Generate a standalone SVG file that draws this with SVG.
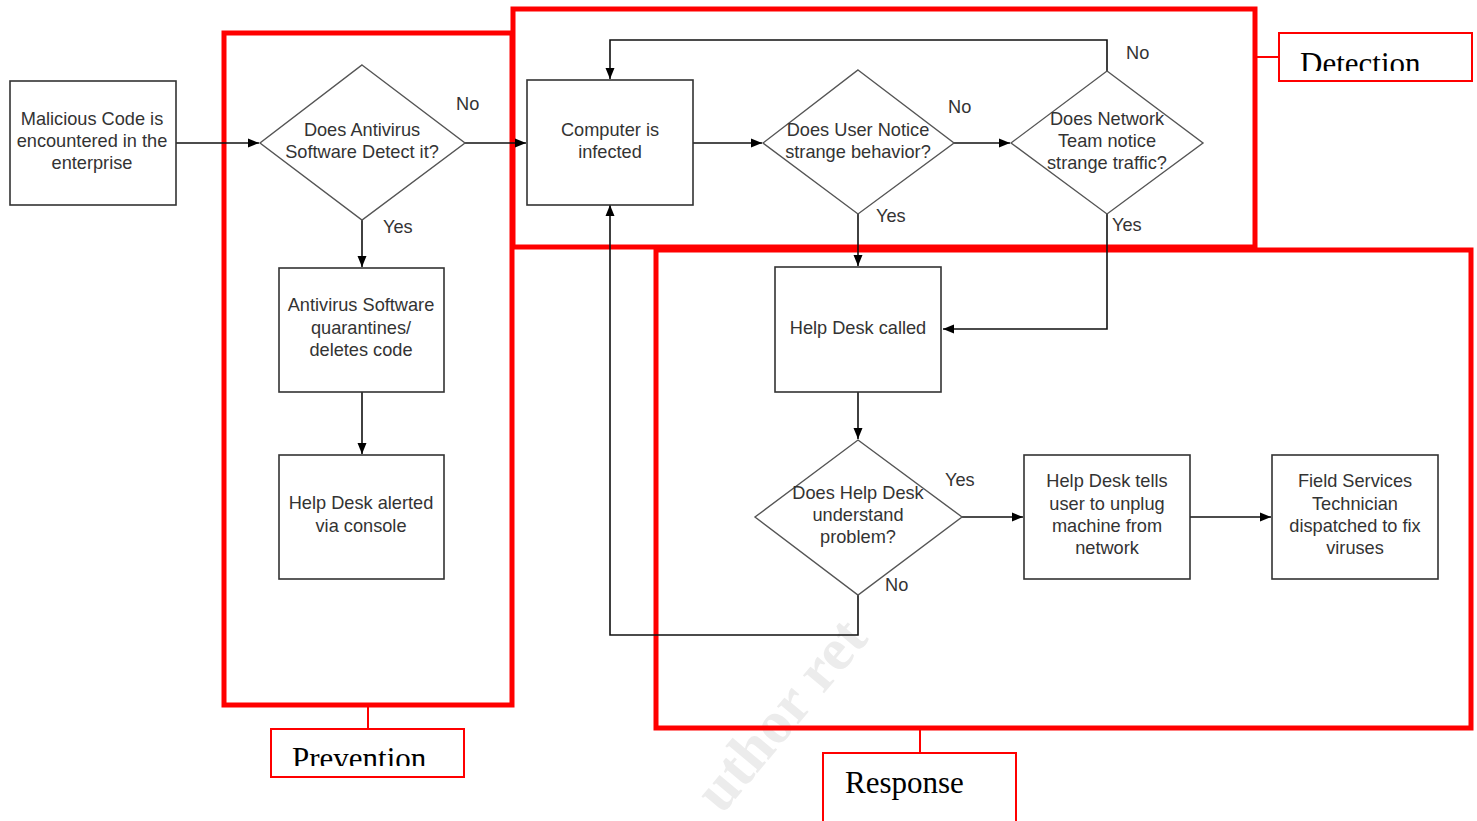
<svg xmlns="http://www.w3.org/2000/svg" width="1477" height="821" viewBox="0 0 1477 821">
<style>
.box{fill:#fff;stroke:#333;stroke-width:1.6}
.dia{fill:#fff;stroke:#555;stroke-width:1.4}
.t{font-family:"Liberation Sans",Arial,sans-serif;font-size:18.2px;fill:#333;text-anchor:middle}
.lbl{font-family:"Liberation Sans",Arial,sans-serif;font-size:18.2px;fill:#333}
.con{fill:none;stroke:#111;stroke-width:1.6}
.phase{fill:none;stroke:#f00;stroke-width:5}
.tag{fill:#fff;stroke:#f00;stroke-width:2}
.tagline{stroke:#f00;stroke-width:2}
.big{font-family:"Liberation Serif","Times New Roman",serif;font-size:31px;fill:#000}
</style>
<defs>
<marker id="ah" markerUnits="userSpaceOnUse" markerWidth="12" markerHeight="10" refX="11" refY="5" orient="auto">
<path d="M0,0.5 L11,5 L0,9.5 z" fill="#000"/>
</marker>
<clipPath id="clipDet"><rect x="1280" y="34" width="190" height="37"/></clipPath>
<clipPath id="clipPrev"><rect x="272" y="730" width="190" height="36"/></clipPath>
</defs>

<text x="0" y="0" transform="translate(722,815) rotate(-50)" font-family="'Liberation Serif',serif" font-weight="bold" font-size="60" fill="#ececec">uthor ret</text>

<g id="phases">
<rect class="phase" x="224" y="33" width="288" height="672"/>
<rect class="phase" x="513" y="9" width="742" height="238"/>
<rect class="phase" x="656" y="250" width="815" height="478"/>
</g>

<g id="tag-detection">
<line class="tagline" x1="1257" y1="57" x2="1279" y2="57"/>
<rect class="tag" x="1279" y="33" width="193" height="48"/>
<text class="big" x="1300" y="73.5" clip-path="url(#clipDet)">Detection</text>
</g>
<g id="tag-prevention">
<line class="tagline" x1="368" y1="707" x2="368" y2="729"/>
<rect class="tag" x="271" y="729" width="193" height="48"/>
<text class="big" x="292" y="768.5" clip-path="url(#clipPrev)">Prevention</text>
</g>
<g id="tag-response">
<line class="tagline" x1="920" y1="730" x2="920" y2="753"/>
<rect class="tag" x="823" y="753" width="193" height="80"/>
<text class="big" x="845" y="793">Response</text>
</g>

<g id="connectors">
<line class="con" x1="176" y1="143" x2="259" y2="143" marker-end="url(#ah)"/>
<line class="con" x1="465" y1="143" x2="526" y2="143" marker-end="url(#ah)"/>
<line class="con" x1="362" y1="220" x2="362" y2="267" marker-end="url(#ah)"/>
<line class="con" x1="362" y1="392" x2="362" y2="454" marker-end="url(#ah)"/>
<line class="con" x1="693" y1="143" x2="762" y2="143" marker-end="url(#ah)"/>
<line class="con" x1="954" y1="143" x2="1010" y2="143" marker-end="url(#ah)"/>
<polyline class="con" points="1107,71 1107,40 610,40 610,79" marker-end="url(#ah)"/>
<line class="con" x1="858" y1="214" x2="858" y2="266" marker-end="url(#ah)"/>
<polyline class="con" points="1107,214 1107,329 943,329" marker-end="url(#ah)"/>
<line class="con" x1="858" y1="392" x2="858" y2="439" marker-end="url(#ah)"/>
<line class="con" x1="962" y1="517" x2="1023" y2="517" marker-end="url(#ah)"/>
<line class="con" x1="1190" y1="517" x2="1271" y2="517" marker-end="url(#ah)"/>
<polyline class="con" points="858,595 858,635 610,635 610,205" marker-end="url(#ah)"/>
</g>

<g id="edge-labels">
<text class="lbl" x="456" y="110">No</text>
<text class="lbl" x="383" y="233">Yes</text>
<text class="lbl" x="948" y="113">No</text>
<text class="lbl" x="876" y="222">Yes</text>
<text class="lbl" x="1126" y="59">No</text>
<text class="lbl" x="1112" y="231">Yes</text>
<text class="lbl" x="945" y="486">Yes</text>
<text class="lbl" x="885" y="591">No</text>
</g>

<g id="n-malicious">
<rect class="box" x="10" y="81" width="166" height="124"/>
<text class="t" x="92" y="125">Malicious Code is</text>
<text class="t" x="92" y="147">encountered in the</text>
<text class="t" x="92" y="169">enterprise</text>
</g>
<g id="n-av-detect">
<polygon class="dia" points="362,65 465,143 362,220 260,143"/>
<text class="t" x="362" y="136">Does Antivirus</text>
<text class="t" x="362" y="158">Software Detect it?</text>
</g>
<g id="n-av-quarantine">
<rect class="box" x="279" y="268" width="165" height="124"/>
<text class="t" x="361" y="311">Antivirus Software</text>
<text class="t" x="361" y="334">quarantines/</text>
<text class="t" x="361" y="356">deletes code</text>
</g>
<g id="n-hd-alerted">
<rect class="box" x="279" y="455" width="165" height="124"/>
<text class="t" x="361" y="509">Help Desk alerted</text>
<text class="t" x="361" y="532">via console</text>
</g>
<g id="n-infected">
<rect class="box" x="527" y="80" width="166" height="125"/>
<text class="t" x="610" y="136">Computer is</text>
<text class="t" x="610" y="158">infected</text>
</g>
<g id="n-user-notice">
<polygon class="dia" points="858,70 954,143 858,214 763,143"/>
<text class="t" x="858" y="136">Does User Notice</text>
<text class="t" x="858" y="158">strange behavior?</text>
</g>
<g id="n-network-notice">
<polygon class="dia" points="1107,71 1203,143 1107,214 1011,143"/>
<text class="t" x="1107" y="125">Does Network</text>
<text class="t" x="1107" y="147">Team notice</text>
<text class="t" x="1107" y="169">strange traffic?</text>
</g>
<g id="n-hd-called">
<rect class="box" x="775" y="267" width="166" height="125"/>
<text class="t" x="858" y="334">Help Desk called</text>
</g>
<g id="n-hd-understand">
<polygon class="dia" points="858,440 962,517 858,595 755,517"/>
<text class="t" x="858" y="499">Does Help Desk</text>
<text class="t" x="858" y="521">understand</text>
<text class="t" x="858" y="543">problem?</text>
</g>
<g id="n-unplug">
<rect class="box" x="1024" y="455" width="166" height="124"/>
<text class="t" x="1107" y="487">Help Desk tells</text>
<text class="t" x="1107" y="510">user to unplug</text>
<text class="t" x="1107" y="532">machine from</text>
<text class="t" x="1107" y="554">network</text>
</g>
<g id="n-field">
<rect class="box" x="1272" y="455" width="166" height="124"/>
<text class="t" x="1355" y="487">Field Services</text>
<text class="t" x="1355" y="510">Technician</text>
<text class="t" x="1355" y="532">dispatched to fix</text>
<text class="t" x="1355" y="554">viruses</text>
</g>
</svg>
